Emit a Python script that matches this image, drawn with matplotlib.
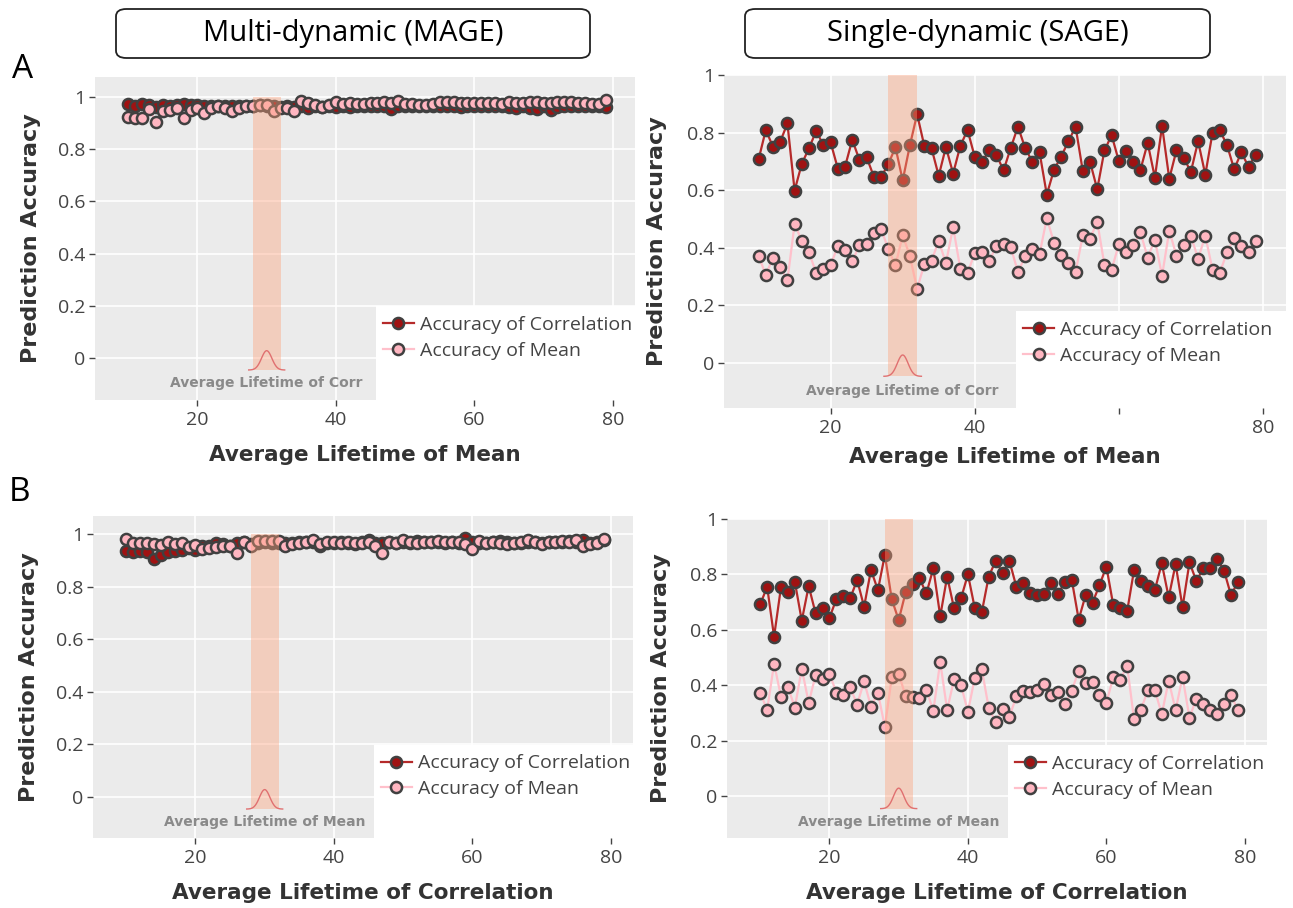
import numpy as np
import matplotlib
matplotlib.use('Agg')
import matplotlib.pyplot as plt
from matplotlib.patches import FancyBboxPatch, Rectangle
from matplotlib.lines import Line2D

##############################################################
# data

lifetime = list(range(10, 80))

mage_a_corr = [0.975, 0.965, 0.972, 0.968, 0.963, 0.968, 0.966, 0.968, 0.972, 0.970,
               0.968, 0.967, 0.966, 0.965, 0.966, 0.964, 0.966, 0.967, 0.966, 0.968,
               0.966, 0.964, 0.963, 0.965, 0.962, 0.965, 0.960, 0.964, 0.962, 0.966,
               0.963, 0.964, 0.962, 0.965, 0.966, 0.964, 0.966, 0.965, 0.955, 0.965,
               0.964, 0.966, 0.965, 0.966, 0.967, 0.965, 0.966, 0.964, 0.963, 0.964,
               0.965, 0.966, 0.965, 0.966, 0.964, 0.963, 0.958, 0.965, 0.960, 0.954,
               0.965, 0.952, 0.962, 0.964, 0.966, 0.964, 0.965, 0.966, 0.965, 0.962]
mage_a_mean = [0.922, 0.920, 0.920, 0.955, 0.905, 0.948, 0.952, 0.958, 0.918, 0.950,
               0.957, 0.938, 0.960, 0.967, 0.960, 0.948, 0.960, 0.967, 0.966, 0.969,
               0.971, 0.945, 0.960, 0.958, 0.948, 0.986, 0.976, 0.970, 0.962, 0.970,
               0.980, 0.972, 0.978, 0.972, 0.975, 0.976, 0.978, 0.980, 0.976, 0.984,
               0.975, 0.972, 0.970, 0.968, 0.975, 0.980, 0.982, 0.982, 0.978, 0.976,
               0.978, 0.978, 0.976, 0.978, 0.974, 0.980, 0.978, 0.976, 0.980, 0.982,
               0.978, 0.976, 0.980, 0.982, 0.980, 0.978, 0.978, 0.972, 0.975, 0.988]

sage_a_corr = [0.707, 0.809, 0.751, 0.768, 0.832, 0.599, 0.692, 0.746, 0.806, 0.756,
               0.766, 0.675, 0.682, 0.775, 0.705, 0.714, 0.647, 0.645, 0.691, 0.749,
               0.634, 0.756, 0.864, 0.754, 0.746, 0.650, 0.750, 0.658, 0.754, 0.809,
               0.716, 0.697, 0.739, 0.723, 0.669, 0.747, 0.821, 0.746, 0.699, 0.731,
               0.585, 0.671, 0.717, 0.770, 0.820, 0.666, 0.699, 0.603, 0.738, 0.791,
               0.701, 0.736, 0.699, 0.671, 0.764, 0.644, 0.823, 0.640, 0.739, 0.712,
               0.664, 0.770, 0.654, 0.799, 0.808, 0.758, 0.673, 0.731, 0.682, 0.723]
sage_a_mean = [0.373, 0.306, 0.366, 0.333, 0.287, 0.483, 0.424, 0.384, 0.312, 0.327,
               0.341, 0.405, 0.391, 0.353, 0.409, 0.412, 0.451, 0.467, 0.395, 0.339,
               0.444, 0.372, 0.257, 0.343, 0.355, 0.424, 0.347, 0.472, 0.327, 0.312,
               0.382, 0.387, 0.353, 0.407, 0.413, 0.402, 0.316, 0.370, 0.395, 0.378,
               0.503, 0.418, 0.376, 0.349, 0.316, 0.444, 0.431, 0.491, 0.341, 0.324,
               0.413, 0.385, 0.409, 0.454, 0.366, 0.428, 0.303, 0.460, 0.372, 0.410,
               0.442, 0.362, 0.442, 0.324, 0.312, 0.384, 0.434, 0.405, 0.385, 0.425]

mage_b_corr = [0.934, 0.932, 0.934, 0.930, 0.906, 0.920, 0.930, 0.935, 0.940, 0.945,
               0.940, 0.955, 0.955, 0.965, 0.960, 0.955, 0.965, 0.970, 0.960, 0.965,
               0.968, 0.966, 0.967, 0.965, 0.966, 0.968, 0.970, 0.968, 0.955, 0.966,
               0.965, 0.968, 0.966, 0.960, 0.968, 0.975, 0.966, 0.967, 0.968, 0.966,
               0.968, 0.967, 0.972, 0.968, 0.970, 0.968, 0.966, 0.968, 0.967, 0.986,
               0.968, 0.966, 0.967, 0.970, 0.972, 0.968, 0.966, 0.967, 0.970, 0.968,
               0.966, 0.968, 0.970, 0.968, 0.972, 0.968, 0.975, 0.966, 0.968, 0.978]
mage_b_mean = [0.982, 0.967, 0.965, 0.964, 0.960, 0.958, 0.968, 0.962, 0.965, 0.950,
               0.957, 0.944, 0.948, 0.950, 0.955, 0.953, 0.928, 0.970, 0.953, 0.972,
               0.972, 0.972, 0.972, 0.955, 0.960, 0.965, 0.970, 0.975, 0.962, 0.968,
               0.970, 0.965, 0.968, 0.966, 0.965, 0.968, 0.955, 0.928, 0.968, 0.965,
               0.975, 0.968, 0.965, 0.970, 0.968, 0.972, 0.970, 0.968, 0.970, 0.962,
               0.944, 0.972, 0.966, 0.968, 0.965, 0.960, 0.965, 0.968, 0.975, 0.970,
               0.962, 0.970, 0.968, 0.972, 0.970, 0.975, 0.955, 0.960, 0.965, 0.982]

sage_b_corr = [0.692, 0.755, 0.575, 0.754, 0.737, 0.773, 0.633, 0.758, 0.659, 0.680,
               0.643, 0.711, 0.722, 0.714, 0.780, 0.683, 0.816, 0.743, 0.871, 0.710,
               0.635, 0.735, 0.764, 0.786, 0.731, 0.822, 0.649, 0.792, 0.677, 0.713,
               0.800, 0.677, 0.663, 0.792, 0.848, 0.806, 0.848, 0.755, 0.770, 0.731,
               0.724, 0.729, 0.770, 0.729, 0.772, 0.780, 0.637, 0.725, 0.698, 0.761,
               0.828, 0.688, 0.680, 0.667, 0.816, 0.777, 0.758, 0.743, 0.840, 0.717,
               0.837, 0.681, 0.843, 0.776, 0.822, 0.822, 0.857, 0.813, 0.725, 0.773]
sage_b_mean = [0.373, 0.310, 0.478, 0.358, 0.394, 0.319, 0.460, 0.336, 0.436, 0.423,
               0.442, 0.373, 0.364, 0.392, 0.330, 0.414, 0.322, 0.373, 0.249, 0.428,
               0.442, 0.360, 0.358, 0.355, 0.384, 0.307, 0.484, 0.310, 0.422, 0.400,
               0.304, 0.427, 0.458, 0.318, 0.267, 0.314, 0.286, 0.360, 0.380, 0.376,
               0.384, 0.404, 0.363, 0.375, 0.331, 0.380, 0.452, 0.406, 0.412, 0.364,
               0.336, 0.430, 0.420, 0.470, 0.276, 0.312, 0.382, 0.382, 0.295, 0.416,
               0.310, 0.430, 0.283, 0.351, 0.331, 0.310, 0.294, 0.331, 0.364, 0.310]

y_ticks      = [0, 0.2, 0.4, 0.6, 0.8, 1]
y_tick_text  = ['0', '0.2', '0.4', '0.6', '0.8', '1']
x_ticks      = [20, 40, 60, 80]
legend_names = ['Accuracy of Correlation', 'Accuracy of Mean']

##############################################################

W, H = 1293, 908
fig = plt.figure(figsize=(W / 100, H / 100), dpi=100)

CORR_FACE = '#a01212'
CORR_LINE = '#b52a2a'
MEAN_FACE = '#ffb6c1'
MEAN_LINE = '#ffc0cb'
EDGE      = '#404040'
TXT       = '#444444'
MS        = 8


def px_rect(x0, y0, x1, y1):
    # pixel box (top-left origin) -> figure fraction
    return [x0 / W, 1 - y1 / H, (x1 - x0) / W, (y1 - y0) / H]


def panel(box, ylim, corr, mean, xlabel, note, ylab_px, xlab_px, hide60=False):
    ax = fig.add_axes(px_rect(*box))
    ax.set_facecolor('#ebebeb')
    ax.set_xlim(5.2, 83.2)
    ax.set_ylim(*ylim)
    for s in ax.spines.values():
        s.set_visible(False)
    ax.set_axisbelow(True)
    ax.grid(True, color='white', linewidth=1.2)

    ax.plot(lifetime, corr, '-o', color=CORR_LINE, lw=1.6, ms=MS,
            mfc=CORR_FACE, mec=EDGE, mew=1.8, zorder=3)
    ax.plot(lifetime, mean, '-o', color=MEAN_LINE, lw=1.6, ms=MS,
            mfc=MEAN_FACE, mec=EDGE, mew=1.8, zorder=4)

    # shaded window and small gaussian marker
    ax.fill_between([28, 32], -0.046, 1.0, color='#ffa07a', alpha=0.4,
                    lw=0, zorder=5)
    gx = np.linspace(27.4, 32.6, 80)
    gy = -0.046 + 0.074 * np.exp(-(gx - 30) ** 2 / (2 * 0.75 ** 2))
    ax.plot(gx, gy, color='#e07070', lw=1.0, zorder=6)
    ax.text(30, -0.096, note, ha='center', va='center', fontsize=10,
            fontweight='bold', color='#8a8a8a', family='DejaVu Sans', zorder=6)

    ax.set_yticks(y_ticks)
    ax.set_yticklabels(y_tick_text)
    ax.set_xticks(x_ticks)
    if hide60:
        ax.set_xticklabels(['20', '40', '', '80'])
    ax.tick_params(axis='both', length=4, width=1, color=TXT, labelcolor=TXT,
                   labelsize=14, pad=3)
    ax.tick_params(axis='x', pad=4)
    for lab in ax.get_xticklabels() + ax.get_yticklabels():
        lab.set_family('Open Sans')

    # legend with white box down to the corner
    ax.add_patch(Rectangle((0.52, 0), 0.48, 0.29, transform=ax.transAxes,
                           facecolor='white', edgecolor='none', zorder=7))
    handles = [Line2D([], [], color=CORR_LINE, lw=1.6, marker='o', ms=MS,
                      mfc=CORR_FACE, mec=EDGE, mew=1.8),
               Line2D([], [], color=MEAN_LINE, lw=1.6, marker='o', ms=MS,
                      mfc=MEAN_FACE, mec=EDGE, mew=1.8)]
    leg = ax.legend(handles, legend_names, loc='upper left',
                    bbox_to_anchor=(0.515, 0.29), frameon=False,
                    prop={'family': 'Open Sans', 'size': 14},
                    handlelength=1.6, handletextpad=0.3, labelspacing=0.4,
                    borderpad=0.5, borderaxespad=0)
    leg.set_zorder(8)
    for t in leg.get_texts():
        t.set_color(TXT)

    x0, y0, x1, y1 = box
    ax.set_xlabel(xlabel, fontsize=15.5, fontweight='bold', color='#333333',
                  family='DejaVu Sans')
    ax.xaxis.set_label_coords(0.5, (y1 - xlab_px) / (y1 - y0))
    ax.xaxis.label.set_va('center')
    ax.set_ylabel('Prediction Accuracy', fontsize=16, fontweight='bold',
                  color='#333333', family='DejaVu Sans')
    ax.yaxis.set_label_coords((ylab_px - x0) / (x1 - x0), 0.5)
    ax.yaxis.label.set_va('center')
    return ax


panel((95, 77, 635, 400), (-0.161, 1.077), mage_a_corr, mage_a_mean,
      'Average Lifetime of Mean', 'Average Lifetime of Corr', 31, 455)
panel((724, 75, 1286, 408), (-0.156, 1.0), sage_a_corr, sage_a_mean,
      'Average Lifetime of Mean', 'Average Lifetime of Corr', 657, 457,
      hide60=True)
panel((93, 516, 633, 838), (-0.156, 1.068), mage_b_corr, mage_b_mean,
      'Average Lifetime of Correlation', 'Average Lifetime of Mean', 29, 893)
panel((727, 519, 1267, 838), (-0.152, 1.0), sage_b_corr, sage_b_mean,
      'Average Lifetime of Correlation', 'Average Lifetime of Mean', 661, 893)

##############################################################
# headers and panel letters

for (bx0, bx1, title) in [(116, 590, 'Multi-dynamic (MAGE)'),
                          (745, 1210, 'Single-dynamic (SAGE)')]:
    r = px_rect(bx0, 9, bx1, 58)
    fig.patches.append(FancyBboxPatch((r[0], r[1]), r[2], r[3],
                                      boxstyle='round,pad=0,rounding_size=0.008',
                                      transform=fig.transFigure,
                                      facecolor='white', edgecolor='#222222', lw=1.3))
    fig.text((bx0 + bx1) / 2 / W, 1 - 33.5 / H, title, ha='center', va='center',
             fontsize=21, family='Open Sans', color='black')

fig.text(23 / W, 1 - 70 / H, 'A', ha='center', va='center', fontsize=24,
         family='Open Sans', color='black')
fig.text(20 / W, 1 - 493 / H, 'B', ha='center', va='center', fontsize=24,
         family='Open Sans', color='black')

fig.savefig('out.png', dpi=100, facecolor='white')
